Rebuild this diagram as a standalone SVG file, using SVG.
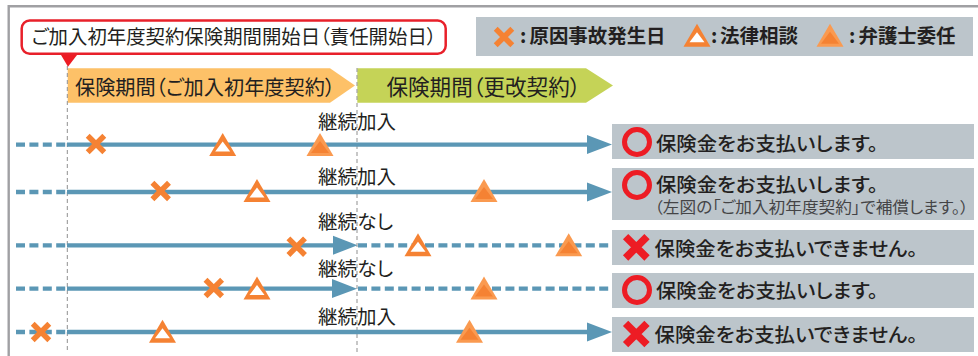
<svg xmlns="http://www.w3.org/2000/svg" width="978" height="356" viewBox="0 0 978 356">
<style>
text{font-family:"Noto Sans CJK JP","Noto Sans",sans-serif;fill:#231f20;font-feature-settings:"palt"}
.t{font-size:20.500px}
.k{font-size:19.500px}
.b{font-size:19.700px;font-weight:500}
.lg{font-size:19.500px;font-weight:700}
.s{font-size:15.500px;fill:#444446}
.box{fill:#bcc5cb}
.sol{stroke:#5b97b5;stroke-width:4.300;fill:none}
.dash{stroke:#5b97b5;stroke-width:4.300;fill:none;stroke-dasharray:9 4.400}
.head{fill:#5b97b5}
.guide{stroke:#8f8f8f;stroke-width:1;stroke-dasharray:4 3;fill:none}
.x{stroke:#f58233;stroke-width:5.500;fill:none}
.to{fill:#f58233}
.ti{fill:#fff}
.fo{fill:#fa9a50}
.fi{fill:#f58233}
.ok{fill:none;stroke:#ed1c24;stroke-width:5}
.ng{stroke:#ed1c24;stroke-width:7.500;fill:none}
</style>
<defs>
<g id="mx"><path class="x" d="M-8.300-8.300L8.300 8.300M8.300-8.300L-8.300 8.300"/></g>
<g id="mt"><path class="to" d="M0-23L13.500 0H-13.500Z"/><path class="ti" d="M0-14.500L7.500-4.500H-7.500Z"/></g>
<g id="mf"><path class="fo" d="M0-23L13.500 0H-13.500Z"/><path class="fi" d="M0-15L9-3H-9Z"/></g>
<g id="mo"><circle class="ok" r="12.500"/></g>
<g id="mn"><path class="ng" d="M-10.700-10.700L10.700 10.700M10.700-10.700L-10.700 10.700"/></g>
</defs>
<path d="M8.700 356V6.300H978" fill="none" stroke="#a0a0a3" stroke-width="2.400"/>
<g id="periods">
<path d="M67.700 68.300H330L355 85.600L330 102.700H67.700Z" fill="#fdc168"/>
<text class="t" x="75" y="94.500" textLength="260" lengthAdjust="spacingAndGlyphs">保険期間（ご加入初年度契約）</text>
<path d="M357.300 68.300H586L613 85.600L586 102.700H357.300Z" fill="#c5d357"/>
<text class="t" x="386.500" y="94.500" textLength="194" lengthAdjust="spacingAndGlyphs" style="font-size:21.500px">保険期間（更改契約）</text>
</g>
<g id="guides">
<path class="guide" d="M67.300 66V353M357 68V353"/>
</g>
<g id="start-date">
<rect x="21.700" y="20.500" width="424" height="33.300" rx="8" fill="#fff" stroke="#e8202a" stroke-width="2.500"/>
<path d="M61 55H77L68 66.700Z" fill="#ed1c24"/>
<text class="t" x="31.500" y="44" textLength="405" lengthAdjust="spacingAndGlyphs" style="font-size:19.500px">ご加入初年度契約保険期間開始日（責任開始日）</text>
</g>
<g id="legend">
<rect class="box" x="476" y="17" width="497" height="39"/>
<use href="#mx" x="504" y="37"/>
<text class="lg" y="42.500"><tspan x="520">:</tspan><tspan x="529.500" textLength="136" lengthAdjust="spacingAndGlyphs">原因事故発生日</tspan></text>
<use href="#mt" x="697" y="46.700"/>
<text class="lg" y="42.500"><tspan x="711">:</tspan><tspan x="720" textLength="78" lengthAdjust="spacingAndGlyphs">法律相談</tspan></text>
<use href="#mf" x="830" y="46.700"/>
<text class="lg" y="42.500"><tspan x="849">:</tspan><tspan x="858.500" textLength="97" lengthAdjust="spacingAndGlyphs">弁護士委任</tspan></text>
</g>
<g id="connectors">
<path class="dash" d="M16 144.700H66"/><path class="sol" d="M67 144.700H590"/><path class="head" d="M587 135L612 144.500L587 154Z"/>
<path class="dash" d="M16 192H66"/><path class="sol" d="M67 192H590"/><path class="head" d="M587 182.500L612 192L587 201.500Z"/>
<path class="dash" d="M16 245.300H66"/><path class="sol" d="M67 245.300H336"/><path class="head" d="M333 235.700L357.500 245.300L333 254.700Z"/><path class="dash" d="M358 245.300H612"/>
<path class="dash" d="M16 288.700H66"/><path class="sol" d="M67 288.700H336"/><path class="head" d="M332 279L357 288.700L332 298Z"/><path class="dash" d="M358 288.700H612"/>
<path class="dash" d="M16 332H66"/><path class="sol" d="M67 332H590"/><path class="head" d="M587 322.500L612 332L587 341.500Z"/>
</g>
<g id="row1">
<use href="#mx" x="96" y="144"/><use href="#mt" x="222.700" y="156"/><use href="#mf" x="320" y="156"/>
<text class="k" x="318" y="128.500" textLength="78" lengthAdjust="spacingAndGlyphs">継続加入</text>
<rect class="box" x="612" y="124" width="362" height="35"/>
<use href="#mo" x="637" y="142"/>
<text class="b" x="656" y="150.500" textLength="222" lengthAdjust="spacingAndGlyphs">保険金をお支払いします。</text>
</g>
<g id="row2">
<use href="#mx" x="160.700" y="191"/><use href="#mt" x="257" y="202"/><use href="#mf" x="484" y="202"/>
<text class="k" x="318" y="183.500" textLength="78" lengthAdjust="spacingAndGlyphs">継続加入</text>
<rect class="box" x="612" y="168" width="362" height="52"/>
<use href="#mo" x="637" y="185"/>
<text class="b" x="656" y="192" textLength="222" lengthAdjust="spacingAndGlyphs">保険金をお支払いします。</text>
<text class="s" x="654.500" y="212.500" textLength="314" lengthAdjust="spacingAndGlyphs">（左図の「ご加入初年度契約」で補償します。）</text>
</g>
<g id="row3">
<use href="#mx" x="296.700" y="246.700"/><use href="#mt" x="418" y="256.300"/><use href="#mf" x="568.700" y="256.300"/>
<text class="k" x="318" y="229" textLength="75" lengthAdjust="spacingAndGlyphs">継続なし</text>
<rect class="box" x="612" y="230" width="362" height="35"/>
<use href="#mn" x="636.300" y="247.300"/>
<text class="b" x="654.500" y="255.500" textLength="263" lengthAdjust="spacingAndGlyphs">保険金をお支払いできません。</text>
</g>
<g id="row4">
<use href="#mx" x="213.800" y="288"/><use href="#mt" x="257" y="299.600"/><use href="#mf" x="484" y="299.600"/>
<text class="k" x="318" y="275.500" textLength="75" lengthAdjust="spacingAndGlyphs">継続なし</text>
<rect class="box" x="612" y="273" width="362" height="35"/>
<use href="#mo" x="637" y="290"/>
<text class="b" x="656" y="297.500" textLength="222" lengthAdjust="spacingAndGlyphs">保険金をお支払いします。</text>
</g>
<g id="row5">
<use href="#mx" x="41" y="332"/><use href="#mt" x="162.500" y="342.700"/><use href="#mf" x="469.500" y="342.700"/>
<text class="k" x="318" y="324" textLength="78" lengthAdjust="spacingAndGlyphs">継続加入</text>
<rect class="box" x="612" y="317" width="362" height="35"/>
<use href="#mn" x="636.300" y="334"/>
<text class="b" x="654.500" y="342" textLength="263" lengthAdjust="spacingAndGlyphs">保険金をお支払いできません。</text>
</g>
</svg>
